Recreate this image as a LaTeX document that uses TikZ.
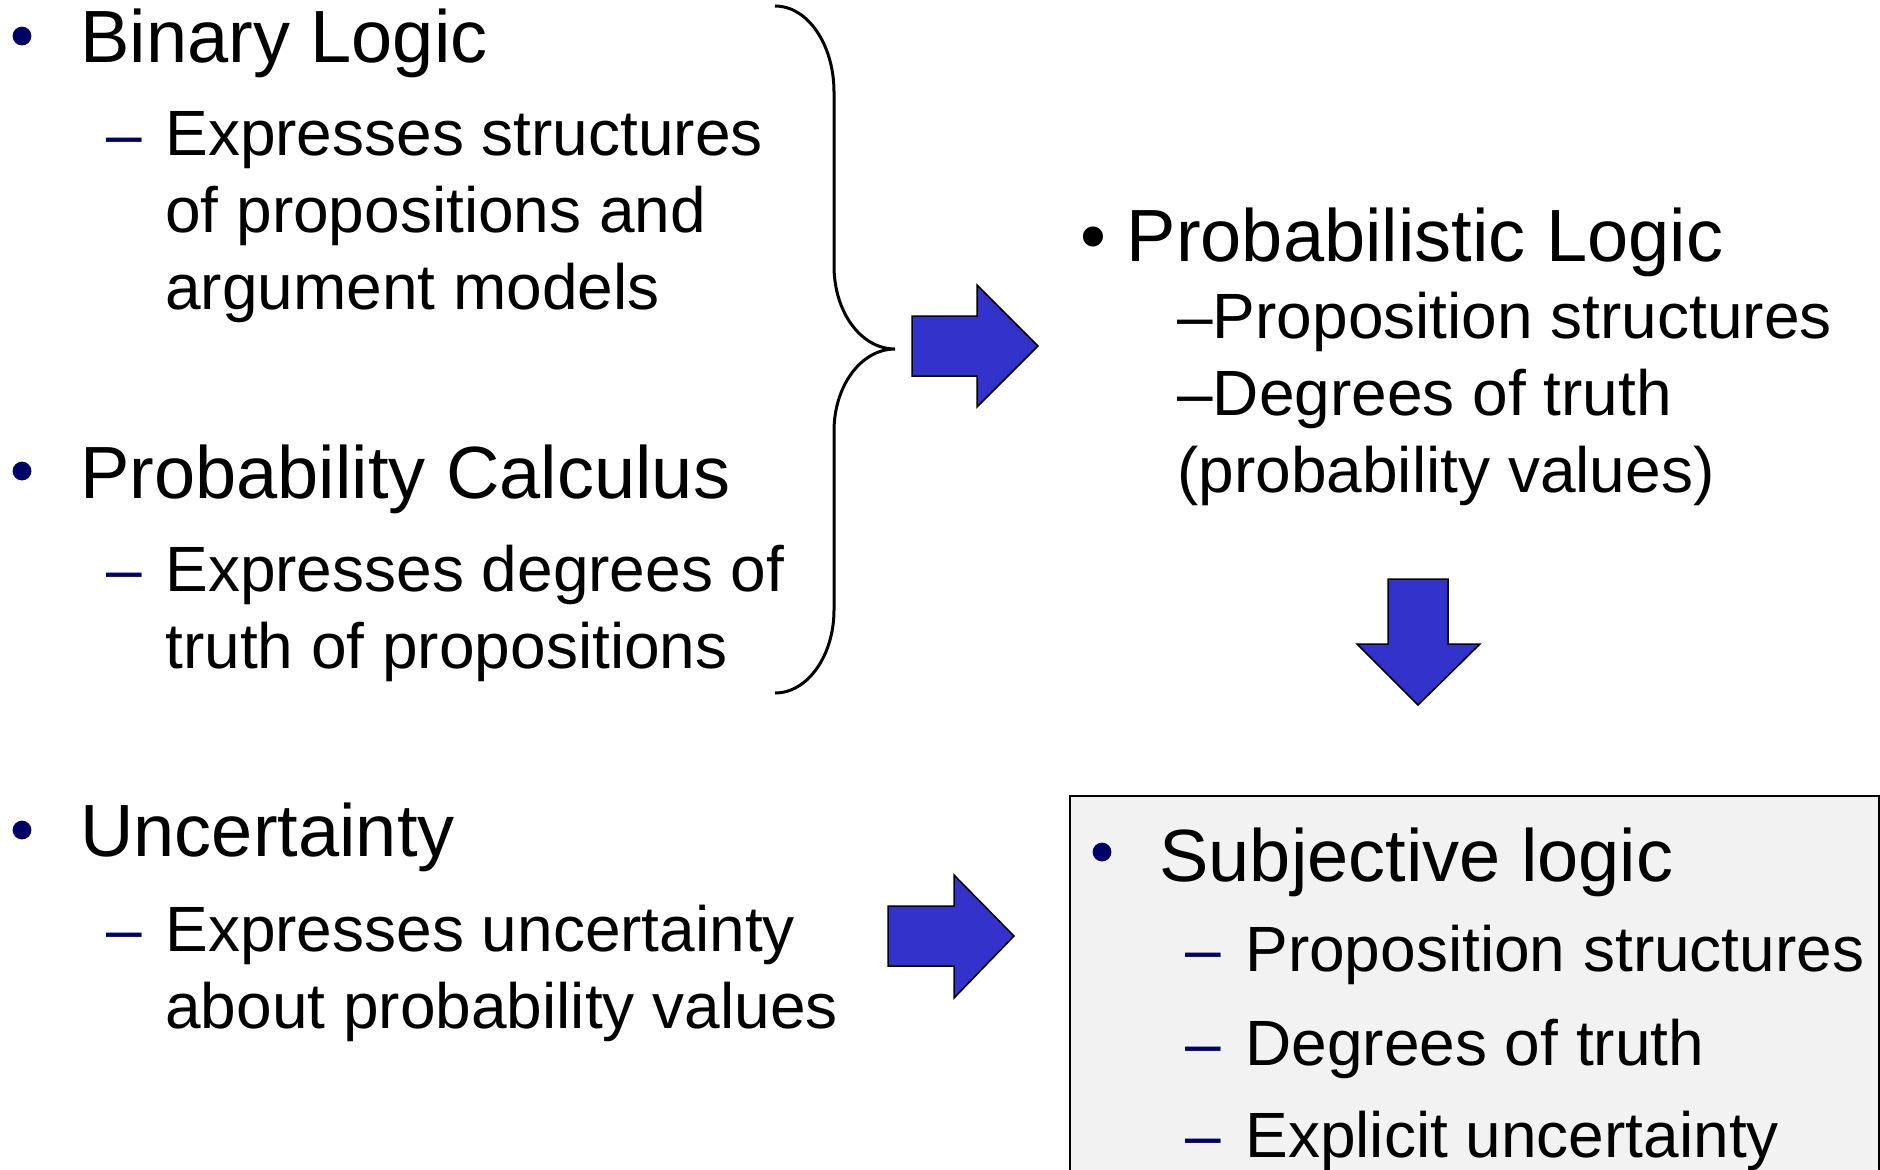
\documentclass[tikz,border=0pt]{standalone}
\usepackage{fontspec}
\setmainfont{Liberation Sans}

\definecolor{listnavy}{RGB}{0,0,102}
\definecolor{arrowblue}{RGB}{51,51,204}
\definecolor{boxgray}{RGB}{242,242,242}

\tikzset{
  head/.style={anchor=base west, inner sep=0pt, font=\fontsize{37}{44}\selectfont},
  sub/.style={anchor=base west, inner sep=0pt, align=left, font=\fontsize{32}{38.5}\selectfont},
  dot/.style={circle, fill=listnavy, inner sep=0pt, minimum size=9.4pt},
  subdash/.style={anchor=base west, inner sep=0pt, text=listnavy, font=\fontsize{32}{38.5}\selectfont},
  blockarrow/.style={fill=arrowblue, draw=black, line width=0.75pt, line join=miter},
  bracket/.style={draw=black, line width=1.5pt},
  sjbox/.style={fill=boxgray, draw=black, line width=0.75pt},
}

\begin{document}
\begin{tikzpicture}[x=0.5pt, y=-0.5pt]
\useasboundingbox (0,0) rectangle (1880,1169);

% left column (multi-line nodes sit on their last baseline)
\node[dot] (binbullet) at (22,36) {};
\node[head] (binary) at (80,62) {Binary Logic};
\node[subdash] (bindash) at (106,156) {–};
\node[sub] (bintext) at (165,309) {Expresses structures\\of propositions and\\argument models};

\node[dot] (calcbullet) at (22,471) {};
\node[head] (calculus) at (80,498) {Probability Calculus};
\node[subdash] (calcdash) at (106,591) {–};
\node[sub] (calctext) at (165,668) {Expresses degrees of\\truth of propositions};

\node[dot] (uncbullet) at (22,830) {};
\node[head] (uncertainty) at (80,856) {Uncertainty};
\node[subdash] (uncdash) at (106,951) {–};
\node[sub] (unctext) at (165,1028) {Expresses uncertainty\\about probability values};

% brace over the first two
\draw[bracket] (775,6) .. controls (808,6) and (834,45) .. (834,92) -- (834,266)
  .. controls (834,312) and (861,349) .. (895,349)
  .. controls (861,349) and (834,386) .. (834,431) -- (834,610)
  .. controls (834,655) and (808,693) .. (775,693);

% block arrows
\draw[blockarrow] (912,316) -- (977,316) -- (977,285) -- (1038,346) -- (977,407) -- (977,376) -- (912,376) -- cycle;
\draw[blockarrow] (1388,579) -- (1448,579) -- (1448,644) -- (1480,644) -- (1418,705) -- (1357,644) -- (1388,644) -- cycle;
\draw[blockarrow] (888,906) -- (954,906) -- (954,875) -- (1014,936) -- (954,998) -- (954,966) -- (888,966) -- cycle;

% right column
\node[head] (problogic) at (1080,261) {•\ Probabilistic Logic};
\node[sub] (probtext) at (1177,492) {–Proposition structures\\–Degrees of truth\\(probability values)};

\draw[sjbox] (1070,796) rectangle (1879,1200);
\node[dot] (sjbullet) at (1102,852) {};
\node[head] (subjective) at (1159,881) {Subjective logic};
\node[subdash] (sjdash1) at (1185,971) {–};
\node[sub] (sjitem1) at (1245,971) {Proposition structures};
\node[subdash] (sjdash2) at (1185,1065) {–};
\node[sub] (sjitem2) at (1245,1065) {Degrees of truth};
\node[subdash] (sjdash3) at (1185,1157) {–};
\node[sub] (sjitem3) at (1245,1157) {Explicit uncertainty};
\end{tikzpicture}
\end{document}
